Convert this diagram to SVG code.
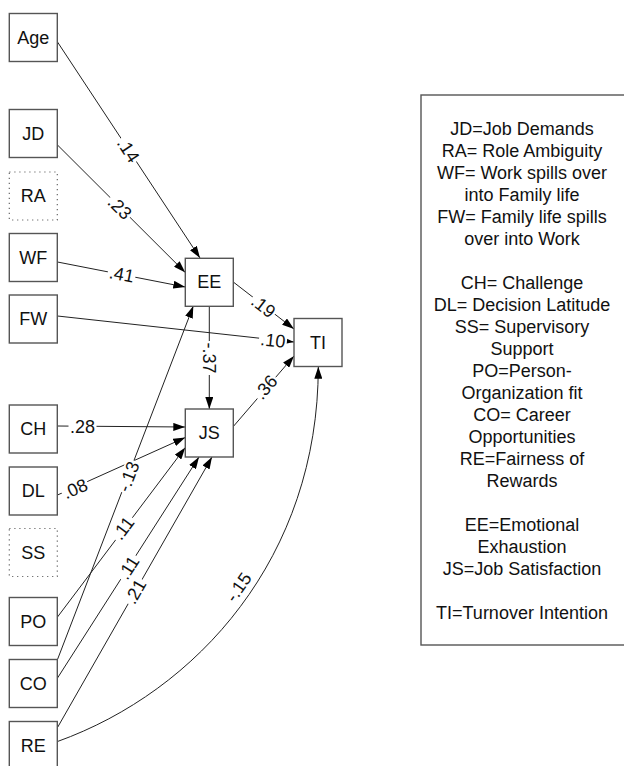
<svg xmlns="http://www.w3.org/2000/svg" width="624" height="766" viewBox="0 0 624 766">
<defs>
<marker id="arr" markerUnits="userSpaceOnUse" markerWidth="12" markerHeight="8" refX="12" refY="4" orient="auto">
<path d="M0,0 L12,4 L0,8 z" fill="#000"/>
</marker>
<style>
.box{fill:#fff;stroke:#555;stroke-width:1.4}
.dot{fill:#fff;stroke:#666;stroke-width:1.2;stroke-dasharray:1.2 3.8}
.nt{font-family:"Liberation Sans",Arial,sans-serif;font-size:18px;fill:#111;text-anchor:middle}
.edge{fill:none;stroke:#222;stroke-width:1;marker-end:url(#arr)}
.lbg{fill:#fff}
.lt{font-family:"Liberation Sans",Arial,sans-serif;font-size:18px;fill:#111;text-anchor:middle}
.leg{font-family:"Liberation Sans",Arial,sans-serif;font-size:18px;fill:#111;text-anchor:middle}
</style>
</defs>
<rect width="624" height="766" fill="#fff"/>

<g id="connectors">
<path class="edge" d="M57.5,42 L200,258"/>
<path class="edge" d="M57.5,145 L185.3,272.5"/>
<path class="edge" d="M57.5,262 L185.3,287"/>
<path class="edge" d="M57.5,316 L294,342"/>
<path class="edge" d="M233.3,282 L294,329"/>
<path class="edge" d="M209.3,306 L209.3,409"/>
<path class="edge" d="M233.3,426.5 L294,356"/>
<path class="edge" d="M57.5,426 L185.3,427"/>
<path class="edge" d="M57.5,495 L185.3,437.5"/>
<path class="edge" d="M57.5,659.5 L193.3,306"/>
<path class="edge" d="M57.5,617 L185.3,447.5"/>
<path class="edge" d="M57.5,678 L199,457"/>
<path class="edge" d="M57.5,727.5 L212,457"/>
<path class="edge" d="M57.5,741.5 C197.3,691.3 318.3,557 318.3,366.7"/>
</g>

<g id="edge-labels">
<g transform="translate(128.5,150) rotate(56.7)"><rect class="lbg" x="-14" y="-8" width="28" height="16"/><text class="lt" y="6.5">.14</text></g>
<g transform="translate(120,207.5) rotate(45)"><rect class="lbg" x="-14" y="-8" width="28" height="16"/><text class="lt" y="6.5">.23</text></g>
<g transform="translate(121.7,274) rotate(11.1)"><rect class="lbg" x="-14" y="-8" width="28" height="16"/><text class="lt" y="6.5">.41</text></g>
<g transform="translate(273,340) rotate(6.3)"><rect class="lbg" x="-14" y="-8" width="28" height="16"/><text class="lt" y="6.5">.10</text></g>
<g transform="translate(263.5,306) rotate(37.8)"><rect class="lbg" x="-14" y="-8" width="28" height="16"/><text class="lt" y="6.5">.19</text></g>
<g transform="translate(209.3,358) rotate(90)"><rect class="lbg" x="-17" y="-8" width="34" height="16"/><text class="lt" y="6.5">-.37</text></g>
<g transform="translate(265.5,387) rotate(-49.2)"><rect class="lbg" x="-14" y="-8" width="28" height="16"/><text class="lt" y="6.5">.36</text></g>
<g transform="translate(82.5,426)"><rect class="lbg" x="-14" y="-8" width="28" height="16"/><text class="lt" y="6.5">.28</text></g>
<g transform="translate(75,488.5) rotate(-24.3)"><rect class="lbg" x="-14" y="-8" width="28" height="16"/><text class="lt" y="6.5">.08</text></g>
<g transform="translate(128.3,476.5) rotate(-69)"><rect class="lbg" x="-17" y="-8" width="34" height="16"/><text class="lt" y="6.5">-.13</text></g>
<g transform="translate(123,528) rotate(-53)"><rect class="lbg" x="-14" y="-8" width="28" height="16"/><text class="lt" y="6.5">.11</text></g>
<g transform="translate(128.3,567.5) rotate(-57.3)"><rect class="lbg" x="-14" y="-8" width="28" height="16"/><text class="lt" y="6.5">.11</text></g>
<g transform="translate(135,591.5) rotate(-60.3)"><rect class="lbg" x="-14" y="-8" width="28" height="16"/><text class="lt" y="6.5">.21</text></g>
<g transform="translate(238.3,587) rotate(-55)"><text class="lt" y="6.5">-.15</text></g>
</g>

<g id="node-Age"><rect class="box" x="9.3" y="13.5" width="48" height="48"/><text class="nt" x="33.3" y="43.5">Age</text></g>
<g id="node-JD"><rect class="box" x="9.3" y="109.5" width="48" height="48"/><text class="nt" x="33.3" y="139.5">JD</text></g>
<g id="node-RA"><rect class="dot" x="9.3" y="172" width="48" height="48"/><text class="nt" x="33.3" y="202">RA</text></g>
<g id="node-WF"><rect class="box" x="9.3" y="233.5" width="48" height="48"/><text class="nt" x="33.3" y="263.5">WF</text></g>
<g id="node-FW"><rect class="box" x="9.3" y="295" width="48" height="48"/><text class="nt" x="33.3" y="325">FW</text></g>
<g id="node-CH"><rect class="box" x="9.3" y="405" width="48" height="48"/><text class="nt" x="33.3" y="435">CH</text></g>
<g id="node-DL"><rect class="box" x="9.3" y="467" width="48" height="48"/><text class="nt" x="33.3" y="497">DL</text></g>
<g id="node-SS"><rect class="dot" x="9.3" y="528.5" width="48" height="48"/><text class="nt" x="33.3" y="558.5">SS</text></g>
<g id="node-PO"><rect class="box" x="9.3" y="597.5" width="48" height="48"/><text class="nt" x="33.3" y="627.5">PO</text></g>
<g id="node-CO"><rect class="box" x="9.3" y="659.5" width="48" height="48"/><text class="nt" x="33.3" y="689.5">CO</text></g>
<g id="node-RE"><rect class="box" x="9.3" y="721.5" width="48" height="48"/><text class="nt" x="33.3" y="751.5">RE</text></g>
<g id="node-EE"><rect class="box" x="185.3" y="258.3" width="48" height="48"/><text class="nt" x="209.3" y="288.3">EE</text></g>
<g id="node-JS"><rect class="box" x="185.3" y="409" width="48" height="48"/><text class="nt" x="209.3" y="439">JS</text></g>
<g id="node-TI"><rect class="box" x="294" y="318.5" width="48" height="48"/><text class="nt" x="318" y="348.5">TI</text></g>

<g id="legend">
<rect class="box" x="421" y="95" width="210" height="550"/>
<text class="leg" x="522" y="134.5">JD=Job Demands</text>
<text class="leg" x="522" y="156.5">RA= Role Ambiguity</text>
<text class="leg" x="522" y="178.5">WF= Work spills over</text>
<text class="leg" x="522" y="200.5">into Family life</text>
<text class="leg" x="522" y="222.5">FW= Family life spills</text>
<text class="leg" x="522" y="244.5">over into Work</text>
<text class="leg" x="522" y="288.5">CH= Challenge</text>
<text class="leg" x="522" y="310.5">DL= Decision Latitude</text>
<text class="leg" x="522" y="332.5">SS= Supervisory</text>
<text class="leg" x="522" y="354.5">Support</text>
<text class="leg" x="522" y="376.5">PO=Person-</text>
<text class="leg" x="522" y="398.5">Organization fit</text>
<text class="leg" x="522" y="420.5">CO= Career</text>
<text class="leg" x="522" y="442.5">Opportunities</text>
<text class="leg" x="522" y="464.5">RE=Fairness of</text>
<text class="leg" x="522" y="486.5">Rewards</text>
<text class="leg" x="522" y="530.5">EE=Emotional</text>
<text class="leg" x="522" y="552.5">Exhaustion</text>
<text class="leg" x="522" y="574.5">JS=Job Satisfaction</text>
<text class="leg" x="522" y="618.5">TI=Turnover Intention</text>
</g>
</svg>
